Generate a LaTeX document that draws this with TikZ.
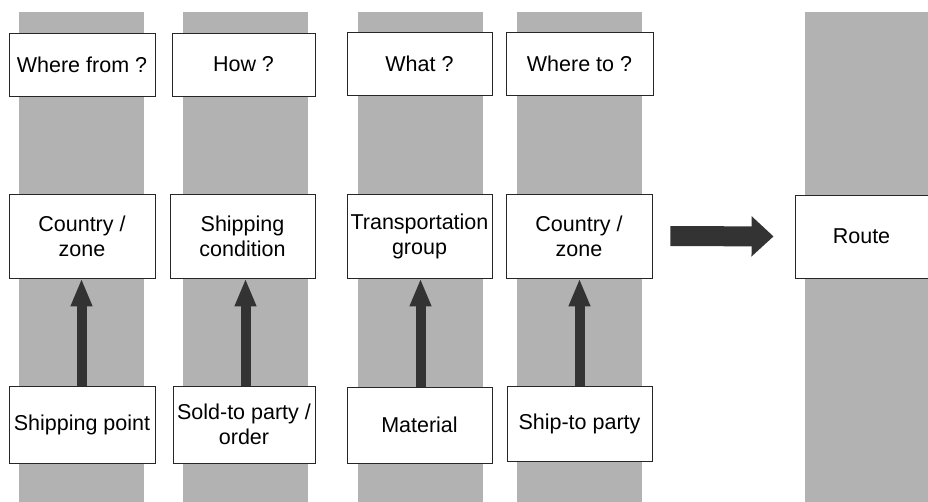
\documentclass[tikz,border=0pt]{standalone}
\usepackage{fontspec}
\setmainfont{Liberation Sans}
\usetikzlibrary{arrows.meta}
\definecolor{lane}{HTML}{B2B2B2}
\definecolor{arrowfill}{HTML}{333333}
\begin{document}
\begin{tikzpicture}[x=1pt,y=-1pt,
  lanebar/.style={fill=lane,draw=none,inner sep=0pt,minimum width=125pt,minimum height=490pt},
  cell/.style={draw=black!85,line width=0.9pt,fill=white,inner sep=1pt,align=center,
    font=\fontsize{21.5}{25}\selectfont},
  uparrow/.style={draw=arrowfill,line width=10pt,-{Triangle[width=20pt,length=28pt]}},
  bigarrow/.style={draw=arrowfill,line width=20pt,-{Triangle[width=39pt,length=22pt]}}]
\useasboundingbox (0,0) rectangle (928,502);

% grey lanes
\node[lanebar] (g1) at (81.5,257) {};
\node[lanebar] (g2) at (245.5,257) {};
\node[lanebar] (g3) at (420.5,257) {};
\node[lanebar] (g4) at (579.5,257) {};
\node[lanebar] (g5) at (867,257) {};

% questions
\node[cell,minimum width=146pt,minimum height=63pt] (q1) at (82,64.5) {Where from ?};
\node[cell,minimum width=143pt,minimum height=63pt] (q2) at (243.5,64.5) {How ?};
\node[cell,minimum width=145pt,minimum height=63pt] (q3) at (419.5,64) {What ?};
\node[cell,minimum width=147pt,minimum height=63pt] (q4) at (579.5,64) {Where to ?};

% determined attributes
\node[cell,minimum width=146pt,minimum height=84pt] (m1) at (82,236) {Country /\\zone};
\node[cell,minimum width=145pt,minimum height=84pt] (m2) at (242.5,236) {Shipping\\condition};
\node[cell,minimum width=145pt,minimum height=84pt] (m3) at (419.5,236) {Transportation\\group};
\node[cell,minimum width=146pt,minimum height=84pt] (m4) at (579,236) {Country /\\zone};

% sources
\node[cell,minimum width=146pt,minimum height=77pt] (s1) at (82,424.5) {Shipping point};
\node[cell,minimum width=142pt,minimum height=77pt] (s2) at (244,424.5) {Sold-to party /\\order};
\node[cell,minimum width=145pt,minimum height=76pt] (s3) at (419.5,425) {Material};
\node[cell,minimum width=145pt,minimum height=75pt] (s4) at (579.5,423.5) {Ship-to party};

% result
\node[cell,minimum width=133pt,minimum height=83pt] (r) at (861.5,236.5) {Route};

% upward arrows
\draw[uparrow] (g1 |- s1.north) -- (g1 |- m1.south);
\draw[uparrow] (g2 |- s2.north) -- (g2 |- m2.south);
\draw[uparrow] (g3 |- s3.north) -- (g3 |- m3.south);
\draw[uparrow] (g4 |- s4.north) -- (g4 |- m4.south);

% arrow to the route
\draw[bigarrow,shorten <=18pt,shorten >=21pt] (m4.east) -- (r.west);
\end{tikzpicture}
\end{document}
